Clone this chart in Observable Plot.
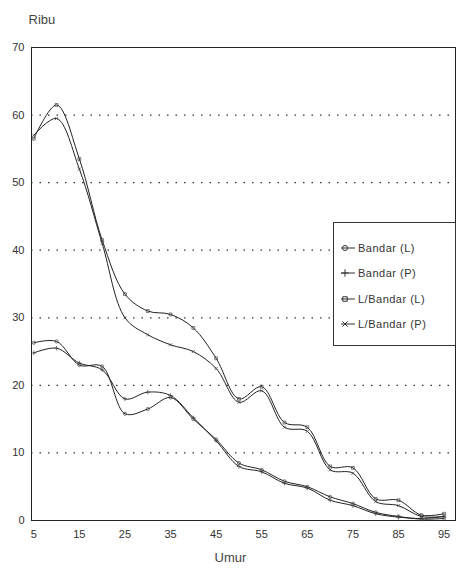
<!DOCTYPE html>
<html>
<head>
<meta charset="utf-8">
<script src="https://cdn.jsdelivr.net/npm/d3@7"></script>
<script src="https://cdn.jsdelivr.net/npm/@observablehq/plot@0.6"></script>
<style>
  html, body { margin: 0; padding: 0; background: #fff; }
  #wrap { position: relative; width: 459px; height: 574px; font-family: "Liberation Sans", Arial, sans-serif; color: #333; }
  #legend { position: absolute; left: 333px; top: 222px; width: 123px; height: 124px; border: 1px solid #333; background: #fff; box-sizing: border-box; padding-top: 12px; }
  .item { display: flex; align-items: center; height: 25.5px; font-size: 11px; letter-spacing: 0.5px; color: #333; }
  .item svg { margin-left: 5px; margin-right: 3px; }
</style>
</head>
<body>
<div id="wrap"></div>
<script>
const ages = [5, 10, 15, 20, 25, 30, 35, 40, 45, 50, 55, 60, 65, 70, 75, 80, 85, 90, 95];
const seriesNames = ["Bandar (L)", "Bandar (P)", "L/Bandar (L)", "L/Bandar (P)"];
const bandarL = [26.3, 26.5, 23.0, 22.8, 15.8, 16.5, 18.2, 15.0, 12.0, 8.5, 7.5, 5.8, 5.0, 3.5, 2.5, 1.2, 0.6, 0.2, 0.3];
const bandarP = [24.8, 25.5, 23.3, 22.3, 18.0, 19.0, 18.5, 15.2, 11.8, 8.0, 7.2, 5.5, 4.8, 3.0, 2.2, 1.0, 0.5, 0.3, 0.6];
const luarL   = [56.5, 61.5, 53.5, 41.5, 33.5, 31.0, 30.5, 28.5, 24.0, 18.0, 19.8, 14.5, 13.8, 8.0, 7.8, 3.2, 3.0, 0.8, 1.0];
const luarP   = [57.0, 59.5, 52.0, 41.0, 30.0, 27.5, 26.0, 25.0, 22.5, 17.5, 19.2, 13.8, 13.2, 7.5, 7.0, 2.8, 2.2, 0.6, 0.6];
const xTicks = [5, 15, 25, 35, 45, 55, 65, 75, 85, 95];
const yTicks = [0, 10, 20, 30, 40, 50, 60, 70];
const gridVals = [10, 20, 30, 40, 50, 60];
const symbols = ["circle", "plus", "square", "times"];

const allSeries = [bandarL, bandarP, luarL, luarP];
const data = allSeries.flatMap((vals, i) => vals.map((v, j) => ({series: seriesNames[i], age: ages[j], value: v})));

const chart = Plot.plot({
  width: 459,
  height: 574,
  marginTop: 47,
  marginBottom: 54,
  marginLeft: 31,
  marginRight: 4,
  style: {fontFamily: "'Liberation Sans', Arial, sans-serif", fontSize: "11px", color: "#333", background: "transparent"},
  x: {domain: [4.5, 97.5], ticks: xTicks, tickSize: 0, tickPadding: 10, label: null, tickFormat: d => String(d)},
  y: {domain: [0, 70], ticks: yTicks, tickSize: 0, tickPadding: 7, label: null, tickFormat: d => String(d)},
  symbol: {domain: seriesNames, range: symbols, legend: false},
  marks: [
    Plot.ruleY(gridVals, {stroke: "#333", strokeDasharray: "1.5,7", strokeWidth: 1.2}),
    Plot.frame({stroke: "#222"}),
    Plot.line(data, {x: "age", y: "value", z: "series", curve: "catmull-rom", stroke: "#222", strokeWidth: 1}),
    Plot.dot(data, {x: "age", y: "value", symbol: "series", r: 1.6, stroke: "#444", strokeWidth: 0.7, fill: "none"}),
    Plot.text(["Ribu"], {frameAnchor: "top-left", textAnchor: "start", dx: -3, dy: -33, fontSize: 13, fill: "#444", letterSpacing: 1}),
    Plot.text(["Umur"], {frameAnchor: "bottom", dx: -13, dy: 41, fontSize: 13, fill: "#444", letterSpacing: 1.5})
  ]
});

const wrap = document.getElementById("wrap");
wrap.appendChild(chart);

const legend = document.createElement("div");
legend.id = "legend";
const symMap = {circle: d3.symbolCircle, plus: d3.symbolPlus, square: d3.symbolSquare, times: d3.symbolTimes};
seriesNames.forEach((name, i) => {
  const item = document.createElement("div");
  item.className = "item";
  const svg = d3.create("svg").attr("width", 16).attr("height", 10);
  svg.append("line").attr("x1", 2).attr("x2", 16).attr("y1", 5).attr("y2", 5).attr("stroke", "#333");
  svg.append("path").attr("d", d3.symbol(symMap[symbols[i]], 20)()).attr("transform", "translate(6,5)").attr("fill", "none").attr("stroke", "#333");
  item.appendChild(svg.node());
  const span = document.createElement("span");
  span.textContent = name;
  item.appendChild(span);
  legend.appendChild(item);
});
wrap.appendChild(legend);
</script>
</body>
</html>
